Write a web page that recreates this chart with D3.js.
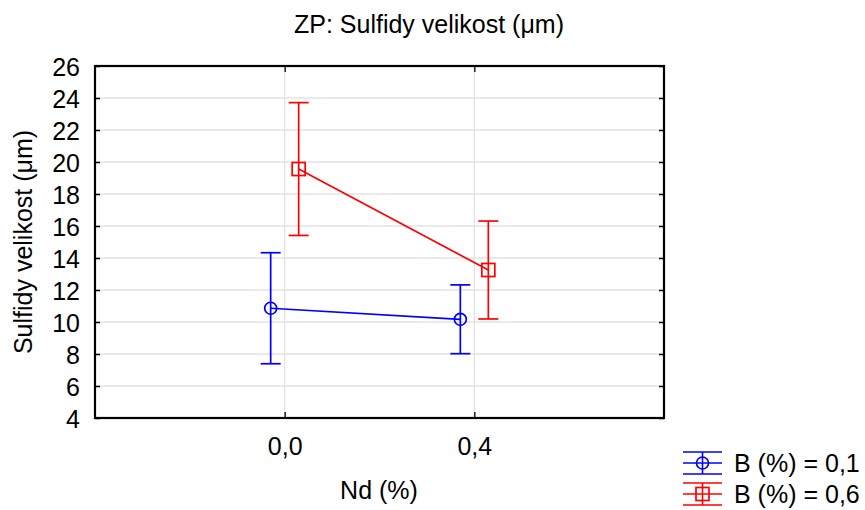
<!DOCTYPE html>
<html>
<head>
<meta charset="utf-8">
<script src="https://cdn.jsdelivr.net/npm/d3@7"></script>
<style>
  html, body { margin: 0; padding: 0; background: #fff; }
  svg { display: block; font-family: "Liberation Sans", Arial, sans-serif; }
</style>
</head>
<body>
<svg id="chart" width="865" height="510"></svg>
<script>
// Nd levels on the x axis
const categories = ["0,0", "0,4"];
const xTickLabels = ["0,0", "0,4"];
// Mean sulfide size per B level, with half-width of the error bars
const seriesNames = ["B (%) = 0,1", "B (%) = 0,6"];
const meansB01 = [10.86, 10.17];
const errB01 = [3.47, 2.15];
const meansB06 = [19.56, 13.25];
const errB06 = [4.15, 3.06];
const yTicks = [4, 6, 8, 10, 12, 14, 16, 18, 20, 22, 24, 26];

const series = [
  { name: seriesNames[0], means: meansB01, err: errB01, color: "#0000ff", shape: "circle", shift: -14 },
  { name: seriesNames[1], means: meansB06, err: errB06, color: "#ff0000", shape: "square", shift: 14 }
];

const FONT = "Liberation Sans, Arial, sans-serif";
const FS = 25;
const svg = d3.select("#chart");
const plot = { left: 95, top: 66, right: 664, bottom: 418 };

const x = d3.scalePoint().domain(categories).range([plot.left, plot.right]).padding(1);
const y = d3.scaleLinear().domain([4, 26]).range([plot.bottom, plot.top]);

// gridlines
const grid = svg.append("g");
grid.selectAll("line.h").data(yTicks).join("line")
  .attr("x1", plot.left).attr("x2", plot.right)
  .attr("y1", d => y(d)).attr("y2", d => y(d))
  .attr("stroke", "#e3e3e3").attr("stroke-width", 1.3);
grid.selectAll("line.v").data(categories).join("line")
  .attr("x1", d => x(d)).attr("x2", d => x(d))
  .attr("y1", plot.top).attr("y2", plot.bottom)
  .attr("stroke", "#e3e3e3").attr("stroke-width", 1.3);

// y axis (ticks point inward on both sides)
const yAxis = d3.axisLeft(y).tickValues(yTicks).tickSizeInner(-5).tickSizeOuter(0).tickPadding(15);
svg.append("g").attr("transform", `translate(${plot.left},0)`).call(yAxis)
  .call(g => g.select(".domain").remove())
  .call(g => g.selectAll("line").attr("stroke", "#000").attr("stroke-width", 1.5))
  .call(g => g.selectAll("text").attr("font-size", FS).attr("fill", "#000")
    .attr("font-family", FONT).attr("dy", "0.36em"));
svg.append("g").attr("transform", `translate(${plot.right},0)`)
  .call(d3.axisRight(y).tickValues(yTicks).tickSizeInner(-5).tickSizeOuter(0).tickFormat(""))
  .call(g => g.select(".domain").remove())
  .call(g => g.selectAll("line").attr("stroke", "#000").attr("stroke-width", 1.5));

// x axis
const xAxis = d3.axisBottom(x).tickFormat((d, i) => xTickLabels[i]).tickSizeInner(-6).tickSizeOuter(0).tickPadding(19);
svg.append("g").attr("transform", `translate(0,${plot.bottom})`).call(xAxis)
  .call(g => g.select(".domain").remove())
  .call(g => g.selectAll("line").attr("stroke", "#000").attr("stroke-width", 1.3))
  .call(g => g.selectAll("text").attr("font-size", FS).attr("fill", "#000")
    .attr("font-family", FONT));
svg.append("g").attr("transform", `translate(0,${plot.top})`)
  .call(d3.axisTop(x).tickSizeInner(-6).tickSizeOuter(0).tickFormat(""))
  .call(g => g.select(".domain").remove())
  .call(g => g.selectAll("line").attr("stroke", "#000").attr("stroke-width", 1.3));

// frame
svg.append("rect")
  .attr("x", plot.left).attr("y", plot.top)
  .attr("width", plot.right - plot.left).attr("height", plot.bottom - plot.top)
  .attr("fill", "none").attr("stroke", "#000").attr("stroke-width", 2.2);

// series
const capHalf = 10;
function drawMarker(g, shape, cx, cy, color) {
  if (shape === "circle") {
    g.append("circle").attr("cx", cx).attr("cy", cy).attr("r", 6)
      .attr("fill", "none").attr("stroke", color).attr("stroke-width", 1.7);
  } else {
    g.append("rect").attr("x", cx - 6.5).attr("y", cy - 6.5).attr("width", 13).attr("height", 13)
      .attr("fill", "none").attr("stroke", color).attr("stroke-width", 1.7);
  }
}

series.forEach(s => {
  const g = svg.append("g");
  const pts = categories.map((c, i) => ({ cx: x(c) + s.shift, m: s.means[i], e: s.err[i] }));
  g.append("path")
    .attr("d", d3.line().x(d => d.cx).y(d => y(d.m))(pts))
    .attr("fill", "none").attr("stroke", s.color).attr("stroke-width", 1.7);
  pts.forEach(p => {
    g.append("line").attr("x1", p.cx).attr("x2", p.cx)
      .attr("y1", y(p.m + p.e)).attr("y2", y(p.m - p.e))
      .attr("stroke", s.color).attr("stroke-width", 1.7);
    [p.m + p.e, p.m - p.e].forEach(v => {
      g.append("line").attr("x1", p.cx - capHalf).attr("x2", p.cx + capHalf)
        .attr("y1", y(v)).attr("y2", y(v))
        .attr("stroke", s.color).attr("stroke-width", 1.7);
    });
    drawMarker(g, s.shape, p.cx, y(p.m), s.color);
  });
});

// titles
svg.append("text").attr("x", 429).attr("y", 33).attr("text-anchor", "middle")
  .attr("font-size", FS).text("ZP: Sulfidy velikost (\u03bcm)");
svg.append("text").attr("transform", `translate(32,${(plot.top + plot.bottom) / 2}) rotate(-90)`)
  .attr("text-anchor", "middle").attr("font-size", FS).text("Sulfidy velikost (\u03bcm)");
svg.append("text").attr("x", 379).attr("y", 499).attr("text-anchor", "middle")
  .attr("font-size", FS).text("Nd (%)");

// legend
const legend = svg.append("g");
series.forEach((s, i) => {
  const cy = 463 + i * 31;
  const lx0 = 683, lx1 = 722, lc = (lx0 + lx1) / 2;
  const g = legend.append("g");
  [-11, 0, 11].forEach(dy => {
    g.append("line").attr("x1", lx0).attr("x2", lx1).attr("y1", cy + dy).attr("y2", cy + dy)
      .attr("stroke", s.color).attr("stroke-width", 1.6);
  });
  g.append("line").attr("x1", lc).attr("x2", lc).attr("y1", cy - 11).attr("y2", cy + 11)
    .attr("stroke", s.color).attr("stroke-width", 1.6);
  drawMarker(g, s.shape, lc, cy, s.color);
  g.append("text").attr("x", 734).attr("y", cy + 9).attr("font-size", FS).text(s.name);
});
</script>
</body>
</html>
